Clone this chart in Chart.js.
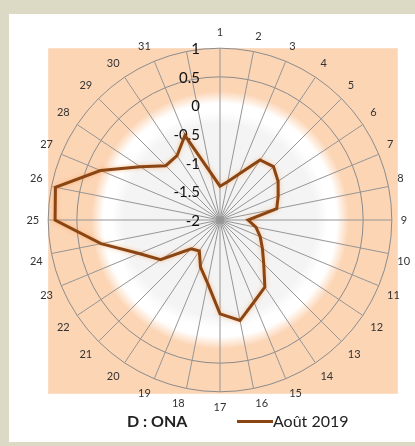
<!DOCTYPE html>
<html>
<head>
<meta charset="utf-8">
<script src="https://cdn.jsdelivr.net/npm/chart.js@4.4.0/dist/chart.umd.min.js"></script>
<style>
  html, body { margin: 0; padding: 0; }
  body {
    width: 415px; height: 446px; position: relative; overflow: hidden;
    background: #dcdac4; font-family: Lato, 'Open Sans', sans-serif;
  }
  #panel { position: absolute; left: 9px; top: 14px; width: 406px; height: 428px; background: #fff; }
  #wrap { position: absolute; left: 0; top: 0; width: 415px; height: 446px; }
  .titre { position: absolute; left: 127px; top: 411px; font-size: 16px; font-weight: bold; color: #222; }
  .serie { position: absolute; left: 237px; top: 411px; font-size: 16px; color: #222; white-space: nowrap; }
  .serie i { display: inline-block; width: 36px; height: 3px; background: #8b4513; vertical-align: middle; margin-top: -3px; }
</style>
</head>
<body>
<div id="panel"></div>
<div id="wrap"><canvas id="radarChart" width="415" height="446"></canvas></div>
<div class="titre">D : ONA</div>
<div class="serie"><i></i>Août 2019</div>

<script>
// jours du mois (32e axe vide comme dans le classeur)
const jours = ['1','2','3','4','5','6','7','8','9','10','11','12','13','14','15','16',
               '17','18','19','20','21','22','23','24','25','26','27','28','29','30','31',''];

// valeurs
const aout2019 = [-1.41, -1.32, -1.13, -0.74, -0.68, -0.78, -0.90, -0.99,
                  -1.51, -1.36, -1.24, -1.11, -0.92, -0.59, -0.45, -0.21,
                  -0.36, -0.88, -1.11, -1.35, -1.29, -0.75, -0.47, 0.12,
                   0.88,  0.93,  0.26, -0.33, -0.66, -0.65, -0.40, null];

const graduations = [1, 0.5, 0, -0.5, -1, -1.5, -2];

// fond du plot (rectangle peche + degrade radial)
const fondPlot = {
  id: 'fondPlot',
  beforeDraw(chart) {
    const s = chart.scales.r;
    const ctx = chart.ctx;
    const R = s.drawingArea, cx = s.xCenter, cy = s.yCenter;
    const g = ctx.createRadialGradient(cx, cy, 0, cx, cy, R);
    g.addColorStop(0, '#f2f2f2');
    g.addColorStop(0.56, '#f4f4f4');
    g.addColorStop(0.63, '#ffffff');
    g.addColorStop(0.68, '#ffffff');
    g.addColorStop(0.75, '#fcd5b5');
    g.addColorStop(1, '#fcd5b5');
    ctx.save();
    ctx.fillStyle = g;
    ctx.fillRect(cx - R, cy - R, 2 * R + 6, 2 * R + 2);
    ctx.restore();
  }
};

// graduations alignees a droite, a gauche de l'axe vertical
const etiquettes = {
  id: 'etiquettes',
  beforeDatasetsDraw(chart) {
    const s = chart.scales.r;
    const ctx = chart.ctx;
    ctx.save();
    ctx.font = '15px Lato, "Open Sans", sans-serif';
    ctx.fillStyle = '#111';
    ctx.textAlign = 'right';
    ctx.textBaseline = 'middle';
    graduations.forEach(v => {
      const d = s.getDistanceFromCenterForValue(v);
      ctx.fillText(String(v), s.xCenter - 20, s.yCenter - d + 1);
    });
    ctx.restore();
  }
};

// leger halo orange sous la courbe
const halo = {
  id: 'halo',
  beforeDatasetsDraw(chart) {
    chart.ctx.save();
    chart.ctx.shadowColor = 'rgba(247,150,70,0.55)';
    chart.ctx.shadowBlur = 4;
  },
  afterDatasetsDraw(chart) {
    chart.ctx.restore();
  }
};

const ctx = document.getElementById('radarChart').getContext('2d');
new Chart(ctx, {
  type: 'radar',
  data: {
    labels: jours,
    datasets: [{
      label: 'Août 2019',
      data: aout2019,
      borderColor: '#8b4513',
      borderWidth: 3,
      pointRadius: 0,
      fill: false,
      spanGaps: true,
      tension: 0
    }]
  },
  options: {
    responsive: false,
    animation: false,
    layout: { padding: { left: 24, right: 1, top: 26, bottom: 32 } },
    scales: {
      r: {
        min: -2,
        max: 1,
        ticks: { stepSize: 0.5, display: false },
        grid: {
          circular: true,
          color: c => (c.tick && c.tick.value >= 0.5) ? '#8c8c8c' : 'rgba(0,0,0,0)',
          lineWidth: 1
        },
        angleLines: { color: '#969696', lineWidth: 1 },
        pointLabels: {
          padding: 9,
          color: '#333',
          font: { family: 'Lato, "Open Sans", sans-serif', size: 11 }
        }
      }
    },
    plugins: {
      legend: { display: false },
      tooltip: { enabled: false }
    }
  },
  plugins: [fondPlot, etiquettes, halo]
});
</script>
</body>
</html>
